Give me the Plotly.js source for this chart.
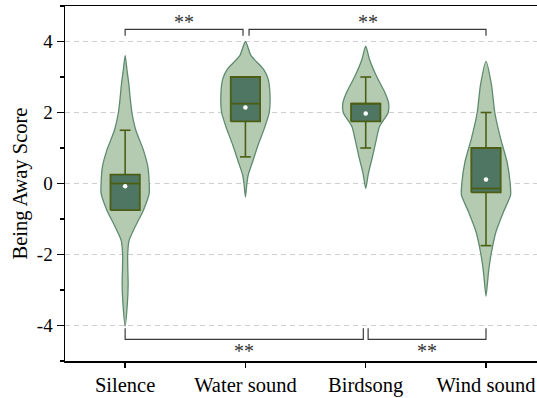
<!DOCTYPE html>
<html>
<head>
<meta charset="utf-8">
<script src="https://cdn.plot.ly/plotly-3.0.1.min.js"></script>
<style>html,body{margin:0;padding:0;background:#fff;}#chart{width:537px;height:398px;}</style>
</head>
<body>
<div id="chart"></div>
<script>
// ---- Data ----
const categories = ["Silence", "Water sound", "Birdsong", "Wind sound"];

// Violin outlines: score levels and half-widths (in category units)
const silenceY = [3.61, 3.2, 2.82, 2.4, 2, 1.5, 0.94, 0.47, 0, -0.28, -0.75, -1.22, -1.6, -2, -2.4, -2.83, -3.4, -4.02];
const silenceW = [0, 0.015, 0.03, 0.042, 0.056, 0.089, 0.152, 0.189, 0.2, 0.2, 0.152, 0.083, 0.033, 0.021, 0.022, 0.025, 0.018, 0];
const waterY = [4.0, 3.6, 3.22, 2.94, 2.5, 2, 1.56, 1.09, 0.62, 0.24, 0, -0.38];
const waterW = [0, 0.047, 0.15, 0.189, 0.204, 0.198, 0.158, 0.106, 0.06, 0.023, 0.012, 0];
const birdY = [3.87, 3.48, 3.0, 2.53, 2.25, 2, 1.6, 1.22, 0.75, 0.28, -0.14];
const birdW = [0, 0.033, 0.093, 0.164, 0.191, 0.187, 0.114, 0.087, 0.056, 0.022, 0];
const windY = [3.44, 2.77, 2, 1.27, 0.61, 0, -0.33, -0.8, -1.36, -2, -2.49, -3.17];
const windW = [0, 0.046, 0.073, 0.121, 0.175, 0.201, 0.204, 0.145, 0.083, 0.042, 0.021, 0];

// Box statistics
const q1 = [-0.75, 1.75, 1.75, -0.25];
const median = [0, 2.25, 2.25, -0.14];
const q3 = [0.25, 3.0, 2.25, 1.0];
const lowerWhisker = [-0.75, 0.75, 1.0, -1.75];
const upperWhisker = [1.5, 3.0, 3.0, 2.0];
const means = [-0.08, 2.14, 1.97, 0.11];

// Significance brackets
const bracketFrom = [0, 1.03, 0, 2.02];
const bracketTo = [0.98, 3, 1.98, 3];
const bracketLevel = [4.34, 4.34, -4.39, -4.39];
const bracketLegEnd = [4.16, 4.16, -4.08, -4.08];
const bracketLabel = ["**", "**", "**", "**"];
const bracketLabelY = [4.56, 4.56, -4.72, -4.72];

// y tick labels (hyphen minus as in the reference)
const yTickVals = [-4, -2, 0, 2, 4];
const yTickText = ["-4", "-2", "0", "2", "4"];

// ---- Styling ----
const SERIF = "Liberation Serif, Times New Roman, serif";
const BOX_HALF = 0.122;
const CAP_HALF = 0.045;
const BOX_LINE = "#4b5e14";

// ---- Build traces ----
const violinSets = [[silenceY, silenceW], [waterY, waterW], [birdY, birdW], [windY, windW]];
const traces = [];
violinSets.forEach(function (set, i) {
  const ys = set[0], ws = set[1];
  const xs = [], yy = [];
  for (let k = 0; k < ys.length; k++) { xs.push(i + ws[k]); yy.push(ys[k]); }
  for (let k = ys.length - 2; k >= 1; k--) { xs.push(i - ws[k]); yy.push(ys[k]); }
  xs.push(xs[0]); yy.push(yy[0]);
  traces.push({
    type: "scatter", mode: "lines", x: xs, y: yy,
    fill: "toself", fillcolor: "#b4cbb1",
    line: { color: "#5e8b70", width: 1.3, shape: "spline", smoothing: 0.6 },
    hoverinfo: "skip", showlegend: false
  });
});

// whiskers + caps
const wx = [], wy = [];
categories.forEach(function (c, i) {
  wx.push(i, i, null, i, i, null);
  wy.push(q3[i], upperWhisker[i], null, q1[i], lowerWhisker[i], null);
  if (upperWhisker[i] > q3[i]) { wx.push(i - CAP_HALF, i + CAP_HALF, null); wy.push(upperWhisker[i], upperWhisker[i], null); }
  if (lowerWhisker[i] < q1[i]) { wx.push(i - CAP_HALF, i + CAP_HALF, null); wy.push(lowerWhisker[i], lowerWhisker[i], null); }
});
traces.push({ type: "scatter", mode: "lines", x: wx, y: wy, line: { color: BOX_LINE, width: 1.6 }, showlegend: false, hoverinfo: "skip" });

// boxes
categories.forEach(function (c, i) {
  traces.push({
    type: "scatter", mode: "lines",
    x: [i - BOX_HALF, i + BOX_HALF, i + BOX_HALF, i - BOX_HALF, i - BOX_HALF],
    y: [q1[i], q1[i], q3[i], q3[i], q1[i]],
    fill: "toself", fillcolor: "#4e7663",
    line: { color: BOX_LINE, width: 1.8 }, showlegend: false, hoverinfo: "skip"
  });
});

// medians
const mx = [], my = [];
categories.forEach(function (c, i) { mx.push(i - BOX_HALF, i + BOX_HALF, null); my.push(median[i], median[i], null); });
traces.push({ type: "scatter", mode: "lines", x: mx, y: my, line: { color: BOX_LINE, width: 1.8 }, showlegend: false, hoverinfo: "skip" });

// means
traces.push({
  type: "scatter", mode: "markers", x: [0, 1, 2, 3], y: means,
  marker: { color: "#ffffff", size: 4.5 }, showlegend: false, hoverinfo: "skip"
});

// brackets
bracketFrom.forEach(function (x0, i) {
  const x1 = bracketTo[i];
  traces.push({
    type: "scatter", mode: "lines",
    x: [x0, x0, x1, x1],
    y: [bracketLegEnd[i], bracketLevel[i], bracketLevel[i], bracketLegEnd[i]],
    line: { color: "#3a3a3a", width: 1.2 }, showlegend: false, hoverinfo: "skip"
  });
});

const annotations = bracketFrom.map(function (x0, i) {
  return {
    x: (x0 + bracketTo[i]) / 2, y: bracketLabelY[i], xref: "x", yref: "y",
    text: bracketLabel[i], showarrow: false,
    font: { family: SERIF, size: 20, color: "#333" },
    xanchor: "center", yanchor: "middle"
  };
});

const layout = {
  width: 537, height: 398,
  margin: { l: 65, r: 0, t: 6, b: 37, pad: 0 },
  paper_bgcolor: "#ffffff", plot_bgcolor: "#ffffff",
  showlegend: false,
  font: { family: SERIF, color: "#000" },
  xaxis: {
    range: [-0.5, 3.424], tickvals: [0, 1, 2, 3], ticktext: categories,
    ticks: "outside", ticklen: 5, tickwidth: 1.5, tickcolor: "#000",
    showline: true, linecolor: "#000", linewidth: 1.5, mirror: true,
    showgrid: false, zeroline: false,
    tickfont: { family: SERIF, size: 20.5, color: "#000" }
  },
  yaxis: {
    range: [-5, 5], tickvals: yTickVals, ticktext: yTickText,
    ticks: "outside", ticklen: 7, tickwidth: 1.5, tickcolor: "#000",
    showline: true, linecolor: "#000", linewidth: 1.5, mirror: false,
    showgrid: true, gridcolor: "#cfcfcf", gridwidth: 1, griddash: "5px,4px",
    zeroline: false,
    minor: { ticks: "outside", ticklen: 4, tickwidth: 1.2, tickcolor: "#000", dtick: 1, tick0: 1, showgrid: false },
    tickfont: { family: SERIF, size: 19, color: "#000" },
    title: { text: "Being Away Score", font: { family: SERIF, size: 20.5, color: "#000" }, standoff: 3 }
  },
  annotations: annotations
};

Plotly.newPlot("chart", traces, layout, { staticPlot: true, displayModeBar: false });
</script>
</body>
</html>
